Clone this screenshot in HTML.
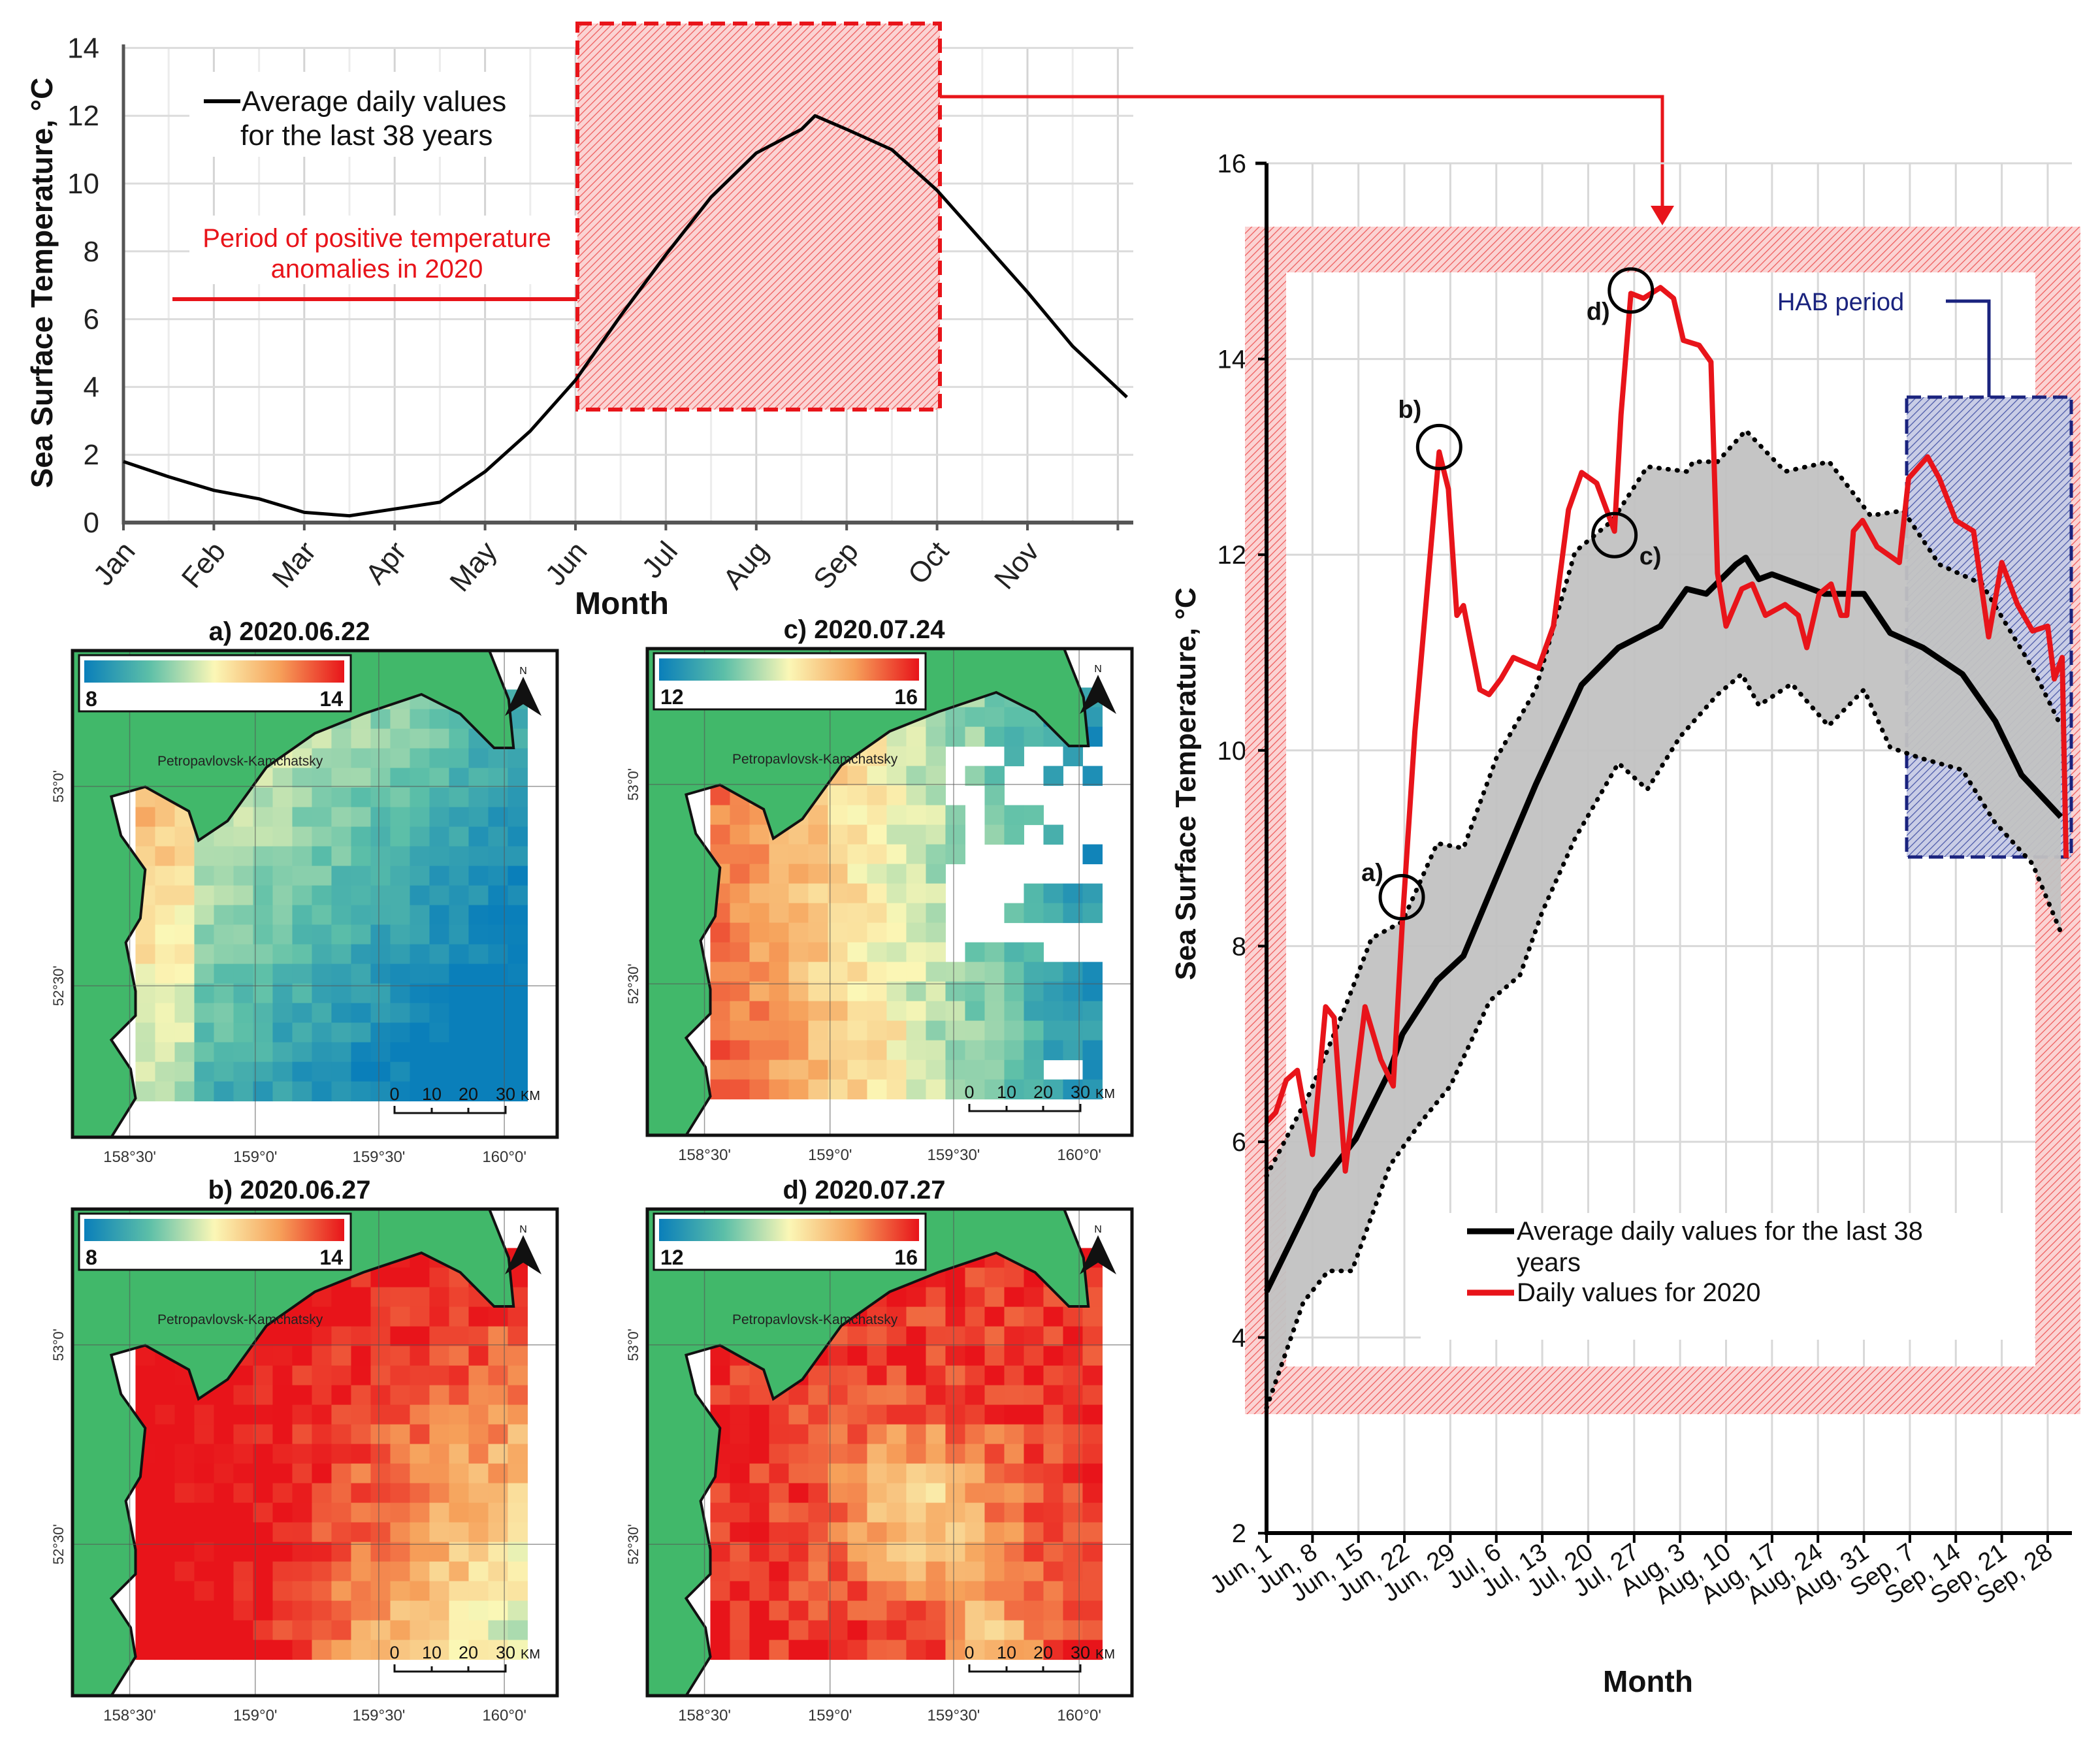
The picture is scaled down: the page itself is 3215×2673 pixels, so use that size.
<!DOCTYPE html>
<html><head><meta charset="utf-8"><title>SST anomalies 2020</title>
<style>
html,body{margin:0;padding:0;background:#fff;}
svg{display:block;font-family:"Liberation Sans",sans-serif;}
</style></head>
<body>
<svg id="root" width="3215" height="2673" viewBox="0 0 3215 2673" xmlns="http://www.w3.org/2000/svg">
<defs>
<pattern id="hatchR" width="8" height="8" patternUnits="userSpaceOnUse" patternTransform="rotate(45)">
<rect width="8" height="8" fill="#fbd3d3"/><line x1="0" y1="0" x2="0" y2="8" stroke="#ee5a5a" stroke-width="2.5"/>
</pattern>
<pattern id="hatchB" width="8" height="8" patternUnits="userSpaceOnUse" patternTransform="rotate(45)">
<rect width="8" height="8" fill="#c9cde6"/><line x1="0" y1="0" x2="0" y2="8" stroke="#4a58a8" stroke-width="2.5"/>
</pattern>
<linearGradient id="cbar" x1="0" x2="1" y1="0" y2="0">
<stop offset="0" stop-color="#0a7fba"/><stop offset="0.25" stop-color="#5cbfa8"/><stop offset="0.5" stop-color="#fbf7b6"/><stop offset="0.75" stop-color="#f6a15a"/><stop offset="1" stop-color="#e8141a"/>
</linearGradient>
</defs>
<g id="top"></g>
<g id="right"></g>
<g id="maps"></g>
</svg>
<script>
// ===== Top chart data =====
const topMonths = ["Jan","Feb","Mar","Apr","May","Jun","Jul","Aug","Sep","Oct","Nov"];
const topYTicks = [0,2,4,6,8,10,12,14];
const topMeanMonthPos = [0,0.5,1,1.5,2,2.5,3,3.5,4,4.5,5,5.5,6,6.5,7,7.5,7.65,8,8.5,9,9.5,10,10.5,11.1];
const topMeanValues   = [1.8,1.35,0.95,0.7,0.3,0.2,0.4,0.6,1.5,2.7,4.2,6.1,7.9,9.6,10.9,11.6,12.0,11.6,11.0,9.8,8.3,6.8,5.2,3.7];

// ===== Right chart data =====
const rYTicks = [2,4,6,8,10,12,14,16];
const rXTickLabels = ["Jun, 1","Jun, 8","Jun, 15","Jun, 22","Jun, 29","Jul, 6","Jul, 13","Jul, 20","Jul, 27","Aug, 3","Aug, 10","Aug, 17","Aug, 24","Aug, 31","Sep, 7","Sep, 14","Sep, 21","Sep, 28"];
const meanDays = [0,7.5,13.6,18.8,20.7,26,30,35,41,48,53.6,60,64,67,71.5,73,75,77,81,85,91,95,100,106,111,115,121];
const meanVals = [4.47,5.5,6.03,6.73,7.1,7.65,7.9,8.7,9.65,10.67,11.05,11.27,11.65,11.6,11.9,11.97,11.75,11.8,11.7,11.6,11.6,11.2,11.05,10.78,10.3,9.75,9.32];
const upDays = [0,6.6,12,16,20.7,26,30,35,41,47,52.7,58,64,65,68.7,73,79,85.7,92,97,102.5,109,116.7,121];
const upVals = [5.65,6.5,7.38,8.08,8.25,9.05,9.0,9.92,10.62,12.03,12.35,12.9,12.85,12.95,12.95,13.27,12.85,12.95,12.4,12.45,11.9,11.7,10.84,10.25];
const loDays = [0,5.6,9.4,13,18.8,23.5,28,34,38.6,42,47,53.6,58,63,68.7,72.4,75,80,85.6,91,95,99.7,106,110.9,116.7,121];
const loVals = [3.28,4.36,4.68,4.68,5.76,6.2,6.57,7.44,7.7,8.35,9.1,9.87,9.6,10.14,10.57,10.78,10.46,10.68,10.25,10.62,10.03,9.92,9.8,9.27,8.84,8.14];
const y2020Days = [0,1.4,3,4.7,7,9,10.3,12,15,17.4,19.3,20.7,22.6,26.3,27.7,29,30,32.5,33.9,35.7,37.6,41.4,43.7,46,48,50.3,53,54,55.5,57.4,60,62,63.5,65.9,67.7,68.7,70,72.4,74,76,79,81,82.3,84.2,86,87.5,88.4,89.4,90.8,93,96.4,97.8,100.7,102.5,105,107.7,110,112,114.4,116.7,119,120,121.2,121.8];
const y2020Vals = [6.2,6.3,6.63,6.73,5.87,7.38,7.27,5.7,7.38,6.84,6.57,8.25,10.19,13.05,12.67,11.38,11.48,10.62,10.57,10.73,10.95,10.84,11.27,12.46,12.84,12.73,12.24,13.43,14.67,14.62,14.73,14.62,14.19,14.14,13.97,11.81,11.27,11.65,11.7,11.38,11.49,11.38,11.05,11.6,11.7,11.38,11.38,12.24,12.35,12.08,11.92,12.78,13.0,12.78,12.35,12.24,11.16,11.92,11.49,11.22,11.27,10.73,10.95,8.9];
const markerLabels = ["a)","b)","c)","d)"];
const markerDays = [20.6,26.3,53,55.5];
const markerVals = [8.5,13.1,12.2,14.7];

const NS="http://www.w3.org/2000/svg";
function mk(parent,tag,attrs,text){const e=document.createElementNS(NS,tag);for(const k in attrs)e.setAttribute(k,attrs[k]);if(text!==undefined)e.textContent=text;parent.appendChild(e);return e;}

// ===== TOP CHART =====
(function(){
const g=document.getElementById('top');
const TX=m=>189+m*138.4, TY=v=>800-v*51.9;
// grid
for(let m=0;m<11.2;m+=0.5){const l=mk(g,'line',{x1:TX(m),x2:TX(m),y1:TY(14),y2:800,stroke:m%1===0?'#d4d4d4':'#ececec','stroke-width':3});
}
topYTicks.forEach(v=>{const l=mk(g,'line',{x1:189,x2:1735,y1:TY(v),y2:TY(v),stroke:'#dcdcdc','stroke-width':3});

const t=mk(g,'text',{x:152,y:TY(v)+15,'font-size':44,'text-anchor':'end',fill:'#222','font-family':'Liberation Sans Narrow, Liberation Sans, sans-serif'},v);
});
// legend bg & text boxes
mk(g,'rect',{x:290,y:110,width:520,height:130,fill:'#fff'});
mk(g,'rect',{x:290,y:330,width:600,height:105,fill:'#fff'});
// anomaly box
const box=mk(g,'rect',{x:884,y:36,width:555,height:591,fill:'url(#hatchR)',stroke:'#e8141a','stroke-width':6,'stroke-dasharray':'22 12'});

// axes
mk(g,'line',{x1:189,x2:189,y1:68,y2:803,stroke:'#555','stroke-width':5});
const xa=mk(g,'line',{x1:187,x2:1735,y1:800,y2:800,stroke:'#555','stroke-width':6});

for(let m=0;m<12;m++){mk(g,'line',{x1:TX(m),x2:TX(m),y1:800,y2:812,stroke:'#555','stroke-width':4});}
topMonths.forEach((n,i)=>{const t=mk(g,'text',{x:TX(i)+20,y:845,'font-size':44,'text-anchor':'end',fill:'#222',transform:`rotate(-50 ${TX(i)+20} 845)`,'font-family':'Liberation Sans Narrow, Liberation Sans, sans-serif'},n);
});
// mean line
let d='';topMeanMonthPos.forEach((m,i)=>{d+=(i?'L':'M')+TX(m).toFixed(1)+','+TY(topMeanValues[i]).toFixed(1);});
const p=mk(g,'path',{d:d,fill:'none',stroke:'#000','stroke-width':5,'stroke-linejoin':'round'});

// legend
mk(g,'line',{x1:312,x2:368,y1:155,y2:155,stroke:'#000','stroke-width':6});
const lt=mk(g,'text',{x:370,y:170,'font-size':44,fill:'#111','font-family':'Liberation Sans Narrow, Liberation Sans, sans-serif'},'Average daily values');

mk(g,'text',{x:368,y:222,'font-size':44,fill:'#111','font-family':'Liberation Sans Narrow, Liberation Sans, sans-serif'},'for the last 38 years');
const a1=mk(g,'text',{x:577,y:378,'font-size':40,'text-anchor':'middle',fill:'#e8141a','font-family':'Liberation Sans Narrow, Liberation Sans, sans-serif'},'Period of positive temperature');

mk(g,'text',{x:577,y:425,'font-size':40,'text-anchor':'middle',fill:'#e8141a','font-family':'Liberation Sans Narrow, Liberation Sans, sans-serif'},'anomalies in 2020');
mk(g,'line',{x1:264,x2:884,y1:458,y2:458,stroke:'#e8141a','stroke-width':6});
// connector arrow
const c=mk(g,'polyline',{points:'1439,148 2545,148 2545,318',fill:'none',stroke:'#e8141a','stroke-width':5});

mk(g,'polygon',{points:'2527,315 2563,315 2545,345',fill:'#e8141a'});
// titles
const yt=mk(g,'text',{x:0,y:0,'font-size':46,'font-weight':'bold','text-anchor':'middle',fill:'#111',transform:'translate(80,433) rotate(-90)'},'Sea Surface Temperature, °C');

const xt=mk(g,'text',{x:952,y:940,'font-size':48,'font-weight':'bold','text-anchor':'middle',fill:'#111','font-family':'Liberation Sans Narrow, Liberation Sans, sans-serif'},'Month');

})();

// ===== RIGHT CHART =====
(function(){
const g=document.getElementById('right');
const X=d=>1939+d*10.05, Y=v=>250+(16-v)*149.8;
// hatched frame
const fr=mk(g,'path',{d:'M1906,347H3185V2165H1906Z M1969,417V2092H3116V417Z','fill-rule':'evenodd',fill:'url(#hatchR)'});

// grid
rXTickLabels.forEach((n,i)=>{const l=mk(g,'line',{x1:X(i*7),x2:X(i*7),y1:250,y2:2347,stroke:'#d8d8d8','stroke-width':3});
});
rYTicks.forEach(v=>{const l=mk(g,'line',{x1:1939,x2:3172,y1:Y(v),y2:Y(v),stroke:'#d8d8d8','stroke-width':3});

const t=mk(g,'text',{x:1908,y:Y(v)+14,'font-size':40,'text-anchor':'end',fill:'#111'},v);
});
// re-draw frame over grid
mk(g,'path',{d:'M1906,347H3185V2165H1906Z M1969,417V2092H3116V417Z','fill-rule':'evenodd',fill:'url(#hatchR)'});
// HAB box
const hb=mk(g,'rect',{x:2919,y:608,width:252,height:704,fill:'url(#hatchB)',stroke:'#1a237e','stroke-width':5,'stroke-dasharray':'22 10'});

mk(g,'polyline',{points:'2979,461 3045,461 3045,608',fill:'none',stroke:'#1a237e','stroke-width':5});
const ht=mk(g,'text',{x:2818,y:475,'font-size':38,'text-anchor':'middle',fill:'#1a237e'},'HAB period');

// band
let top='',bot='';
upDays.forEach((d,i)=>{top+=(i?'L':'M')+X(d).toFixed(1)+','+Y(upVals[i]).toFixed(1);});
for(let i=loDays.length-1;i>=0;i--){bot+='L'+X(loDays[i]).toFixed(1)+','+Y(loVals[i]).toFixed(1);}
const band=mk(g,'path',{d:top+bot+'Z',fill:'#c2c2c2','fill-opacity':0.95});

const up=mk(g,'path',{d:top,fill:'none',stroke:'#000','stroke-width':7,'stroke-dasharray':'1 13','stroke-linecap':'round'});

let lo='';loDays.forEach((d,i)=>{lo+=(i?'L':'M')+X(d).toFixed(1)+','+Y(loVals[i]).toFixed(1);});
const lw=mk(g,'path',{d:lo,fill:'none',stroke:'#000','stroke-width':7,'stroke-dasharray':'1 13','stroke-linecap':'round'});

let md='';meanDays.forEach((d,i)=>{md+=(i?'L':'M')+X(d).toFixed(1)+','+Y(meanVals[i]).toFixed(1);});
const ml=mk(g,'path',{d:md,fill:'none',stroke:'#000','stroke-width':9,'stroke-linejoin':'round'});

let rd='';y2020Days.forEach((d,i)=>{rd+=(i?'L':'M')+X(d).toFixed(1)+','+Y(y2020Vals[i]).toFixed(1);});
const rl=mk(g,'path',{d:rd,fill:'none',stroke:'#e8141a','stroke-width':8,'stroke-linejoin':'round'});

// markers
const lblOff=[[-45,-25],[-45,-45],[55,45],[-50,45]];
markerLabels.forEach((n,i)=>{const cx=X(markerDays[i]),cy=Y(markerVals[i]);
const c=mk(g,'circle',{cx:cx,cy:cy,r:33,fill:'none',stroke:'#000','stroke-width':5});

const t=mk(g,'text',{x:cx+lblOff[i][0],y:cy+lblOff[i][1],'font-size':38,'font-weight':'bold','text-anchor':'middle',fill:'#111'},n);
});
// axes
const ya=mk(g,'line',{x1:1939,x2:1939,y1:250,y2:2350,stroke:'#000','stroke-width':6});

mk(g,'line',{x1:1922,x2:1939,y1:250,y2:250,stroke:'#000','stroke-width':5});
rYTicks.forEach(v=>mk(g,'line',{x1:1926,x2:1939,y1:Y(v),y2:Y(v),stroke:'#000','stroke-width':4}));
const xa=mk(g,'line',{x1:1936,x2:3172,y1:2347,y2:2347,stroke:'#000','stroke-width':6});

rXTickLabels.forEach((n,i)=>{const x=X(i*7);mk(g,'line',{x1:x,x2:x,y1:2347,y2:2362,stroke:'#000','stroke-width':4});
const t=mk(g,'text',{x:x+10,y:2382,'font-size':38,'text-anchor':'end',fill:'#111',transform:`rotate(-35 ${x+10} 2382)`},n);
});
// legend
mk(g,'rect',{x:2175,y:1857,width:940,height:194,fill:'#fff'});
mk(g,'line',{x1:2246,x2:2318,y1:1885,y2:1885,stroke:'#000','stroke-width':9});
const l1=mk(g,'text',{x:2322,y:1898,'font-size':40,fill:'#111'},'Average daily values for the last 38');

mk(g,'text',{x:2322,y:1946,'font-size':40,fill:'#111'},'years');
mk(g,'line',{x1:2246,x2:2318,y1:1979,y2:1979,stroke:'#e8141a','stroke-width':9});
const l2=mk(g,'text',{x:2322,y:1992,'font-size':40,fill:'#111'},'Daily values for 2020');

const yt=mk(g,'text',{x:0,y:0,'font-size':44,'font-weight':'bold','text-anchor':'middle',fill:'#111',transform:'translate(1830,1200) rotate(-90)','font-family':'Liberation Sans Narrow, Liberation Sans, sans-serif'},'Sea Surface Temperature, °C');

const xt=mk(g,'text',{x:2523,y:2590,'font-size':46,'font-weight':'bold','text-anchor':'middle',fill:'#111'},'Month');

})();

// ===== MAPS =====
(function(){
const root=document.getElementById('maps');
const W=742,H=745;
const panels=[
 {x:111,y:996,title:'a) 2020.06.22',lo:'8',hi:'14',kind:'a'},
 {x:991,y:993,title:'c) 2020.07.24',lo:'12',hi:'16',kind:'c'},
 {x:111,y:1851,title:'b) 2020.06.27',lo:'8',hi:'14',kind:'b'},
 {x:991,y:1851,title:'d) 2020.07.27',lo:'12',hi:'16',kind:'d'}];
const stops=[[10,127,186],[92,191,168],[251,247,182],[246,161,90],[232,20,26]];
function cmap(t){t=Math.max(0,Math.min(1,t));const s=t*4,i=Math.min(3,Math.floor(s)),f=s-i;const a=stops[i],b=stops[i+1];
return `rgb(${Math.round(a[0]+(b[0]-a[0])*f)},${Math.round(a[1]+(b[1]-a[1])*f)},${Math.round(a[2]+(b[2]-a[2])*f)})`;}
function hash(i,j,k){let h=(i*374761393+j*668265263+k*1274126177)|0;h=(h^(h>>>13))*1274126177|0;return ((h^(h>>>16))>>>0)/4294967296;}
function field(kind,nx,ny,i,j){const n=hash(i,j,kind.charCodeAt(0))-0.5;
 if(kind==='a')return 0.62-0.55*(nx-0.13)-0.45*(ny-0.1)+0.12*n+ (nx<0.22?0.15:0);
 if(kind==='c')return 0.82-0.95*(nx-0.13)+0.15*n+(ny>0.7&&nx<0.5?0.05:0);
 if(kind==='b')return 1.05-0.55*Math.max(0,nx-0.3)*(ny)*2.2+0.18*n;
 return 0.95-0.35*Math.exp(-((nx-0.55)**2+(ny-0.6)**2)/0.03)-0.25*Math.exp(-((nx-0.7)**2+(ny-0.85)**2)/0.01)+0.2*n;}
const land=[[0,0],[0.86,0],[0.9,0.1],[0.91,0.2],[0.87,0.2],[0.8,0.13],[0.72,0.09],[0.6,0.13],[0.5,0.17],[0.4,0.24],[0.32,0.35],[0.26,0.39],[0.24,0.33],[0.15,0.28],[0.08,0.3],[0.1,0.38],[0.15,0.45],[0.14,0.55],[0.11,0.6],[0.13,0.7],[0.13,0.75],[0.08,0.8],[0.12,0.86],[0.13,0.92],[0.08,1.0],[0,1]];
panels.forEach(P=>{
 const g=mk(root,'g',{transform:`translate(${P.x},${P.y})`});
 
 
 const tt=mk(root,'text',{x:P.x+332,y:P.y-16,'font-size':40,'font-weight':'bold','text-anchor':'middle',fill:'#111'},P.title);
 
 mk(g,'rect',{x:0,y:0,width:W,height:H,fill:'#fff'});
 const cs=30;
 for(let j=0;j*cs<0.82*H;j++)for(let i=0;i*cs<0.79*W;i++){
  const x=0.13*W+i*cs,y=0.08*H+j*cs,nx=x/W,ny=y/H;
  if(P.kind==='c'&&nx>0.58&&ny>0.2&&ny<0.62&&hash(i,j,7)<0.8&&!(nx>0.75&&ny>0.45&&ny<0.55))continue;
  if(P.kind==='c'&&nx>0.8&&ny>0.78&&hash(i,j,9)<0.3)continue;
  mk(g,'rect',{x:x,y:y,width:cs+0.5,height:cs+0.5,fill:cmap(field(P.kind,nx,ny,i,j))});}
 const pts=land.map(p=>(p[0]*W).toFixed(1)+','+(p[1]*H).toFixed(1)).join(' ');
 const lp=mk(g,'polygon',{points:pts,fill:'#41b86a',stroke:'#111','stroke-width':4});
 
 // graticule
 [0.118,0.377,0.632,0.891].forEach((fx,k)=>{mk(g,'line',{x1:fx*W,x2:fx*W,y1:0,y2:H,stroke:'#555','stroke-width':1.5,'stroke-opacity':0.6});
  mk(g,'text',{x:fx*W,y:H+38,'font-size':24,'text-anchor':'middle',fill:'#333'},["158°30'","159°0'","159°30'","160°0'"][k]);});
 [0.279,0.689].forEach((fy,k)=>{mk(g,'line',{x1:0,x2:W,y1:fy*H,y2:fy*H,stroke:'#555','stroke-width':1.5,'stroke-opacity':0.6});
  mk(g,'text',{x:0,y:0,'font-size':22,'text-anchor':'middle',fill:'#333',transform:`translate(-14,${fy*H}) rotate(-90)`},["53°0'","52°30'"][k]);});
 mk(g,'rect',{x:0,y:0,width:W,height:H,fill:'none',stroke:'#111','stroke-width':5});
 // colorbar
 const cb=mk(g,'rect',{x:10,y:7,width:416,height:86,fill:'#fff',stroke:'#111','stroke-width':3});
 
 mk(g,'rect',{x:18,y:15,width:398,height:34,fill:'url(#cbar)'});
 mk(g,'text',{x:20,y:85,'font-size':32,'font-weight':'bold',fill:'#111'},P.lo);
 mk(g,'text',{x:414,y:85,'font-size':32,'font-weight':'bold','text-anchor':'end',fill:'#111'},P.hi);
 mk(g,'text',{x:130,y:176,'font-size':21,fill:'#222'},'Petropavlovsk-Kamchatsky');
 // north arrow
 mk(g,'polygon',{points:'690,40 662,100 690,82 718,100',fill:'#111'});
 mk(g,'text',{x:690,y:36,'font-size':16,'text-anchor':'middle',fill:'#111'},'N');
 // scale bar
 const sb=mk(g,'polyline',{points:'493,697 493,708 663,708 663,697',fill:'none',stroke:'#111','stroke-width':3});
 
 mk(g,'line',{x1:550,x2:550,y1:700,y2:708,stroke:'#111','stroke-width':3});
 mk(g,'line',{x1:606,x2:606,y1:700,y2:708,stroke:'#111','stroke-width':3});
 [['0',493],['10',550],['20',606],['30',663]].forEach(s=>mk(g,'text',{x:s[1],y:688,'font-size':27,'text-anchor':'middle',fill:'#111'},s[0]));
 mk(g,'text',{x:686,y:688,'font-size':20,fill:'#111'},'KM');
});
})();
</script>
</body></html>
